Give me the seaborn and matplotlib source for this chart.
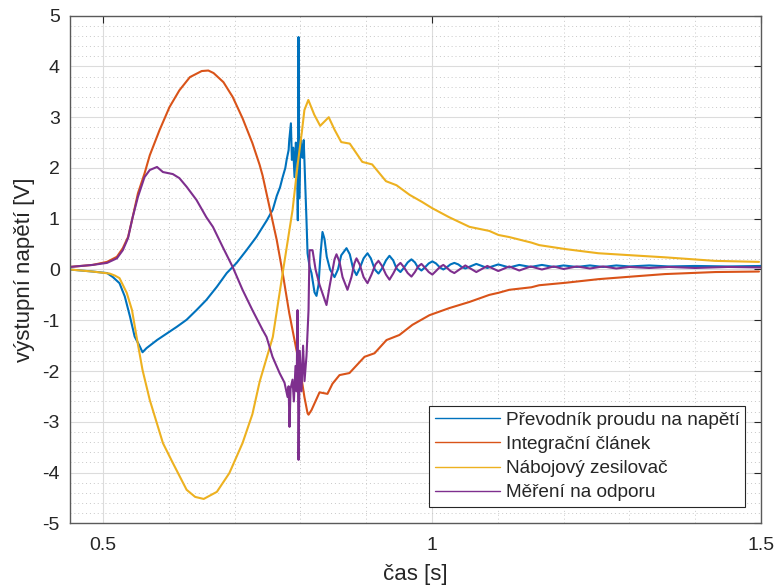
import numpy as np
import pandas as pd
import matplotlib
matplotlib.use("Agg")
import matplotlib.pyplot as plt
from matplotlib.ticker import MultipleLocator, FixedLocator
import seaborn as sns

# ---------------- data ----------------
series_names = ["Převodník proudu na napětí", "Integrační článek",
                "Nábojový zesilovač", "Měření na odporu"]
colors = ["#0072BD", "#D95319", "#EDB120", "#7E2F8E"]

blue_t = [0.449, 0.484, 0.506, 0.515, 0.525, 0.533, 0.541, 0.548, 0.556, 0.560,
          0.566, 0.582, 0.597, 0.612, 0.627, 0.642, 0.657, 0.673, 0.688, 0.703,
          0.718, 0.733, 0.749, 0.758, 0.764, 0.769, 0.773, 0.777, 0.779, 0.782,
          0.783, 0.7855, 0.787, 0.789, 0.791, 0.793, 0.795, 0.7960, 0.7971, 0.7982,
          0.800, 0.8016, 0.8032, 0.8050, 0.8075, 0.8092, 0.8108, 0.8140, 0.8168, 0.8214,
          0.8244, 0.8275, 0.8305, 0.8335, 0.8366, 0.840, 0.845, 0.8518, 0.857, 0.862,
          0.8700, 0.875, 0.880, 0.8852, 0.890, 0.896, 0.9019, 0.907, 0.913, 0.9186,
          0.924, 0.930, 0.9353, 0.941, 0.946, 0.9520, 0.957, 0.963, 0.9687, 0.974,
          0.979, 0.9839, 0.989, 0.995, 1.0005, 1.006, 1.012, 1.0172, 1.023, 1.028,
          1.0339, 1.040, 1.045, 1.0506, 1.0673, 1.0840, 1.1007, 1.1174, 1.1326, 1.150,
          1.167, 1.185, 1.20, 1.22, 1.24, 1.26, 1.28, 1.30, 1.33, 1.36,
          1.40, 1.45, 1.50]
blue_v = [0.00, -0.04, -0.07, -0.15, -0.27, -0.53, -0.93, -1.32, -1.52, -1.63,
          -1.55, -1.39, -1.26, -1.13, -0.99, -0.80, -0.60, -0.34, -0.07, 0.13,
          0.38, 0.64, 0.97, 1.18, 1.45, 1.62, 1.82, 2.00, 2.16, 2.35,
          2.55, 2.88, 2.16, 2.40, 1.82, 2.50, 2.29, 0.97, 4.58, 1.40,
          2.60, 2.41, 2.20, 2.55, 1.60, 0.97, 0.32, 0.05, -0.07, -0.45,
          -0.52, -0.30, 0.30, 0.74, 0.60, 0.25, 0.00, -0.15, 0.00, 0.28,
          0.42, 0.30, 0.02, -0.11, 0.02, 0.22, 0.32, 0.22, 0.00, -0.08,
          0.02, 0.18, 0.27, 0.18, 0.02, -0.05, 0.03, 0.14, 0.20, 0.14,
          0.03, -0.02, 0.04, 0.12, 0.16, 0.12, 0.04, 0.00, 0.05, 0.10,
          0.13, 0.10, 0.05, 0.02, 0.11, 0.03, 0.10, 0.04, 0.09, 0.05,
          0.09, 0.05, 0.08, 0.05, 0.08, 0.05, 0.08, 0.06, 0.08, 0.06,
          0.07, 0.06, 0.07]

orange_t = [0.449, 0.484, 0.506, 0.521, 0.530, 0.538, 0.545, 0.553, 0.563, 0.571,
            0.586, 0.601, 0.616, 0.632, 0.650, 0.660, 0.668, 0.683, 0.697, 0.712,
            0.727, 0.738, 0.7425, 0.753, 0.764, 0.773, 0.783, 0.794, 0.799, 0.806,
            0.8108, 0.8123, 0.8168, 0.8290, 0.8411, 0.8487, 0.8594, 0.8745, 0.8974, 0.9126,
            0.9308, 0.9504, 0.9702, 0.9961, 1.0263, 1.0567, 1.0871, 1.1007, 1.1174, 1.1510,
            1.1629, 1.2040, 1.2530, 1.3030, 1.3540, 1.4310, 1.4969]
orange_v = [0.05, 0.09, 0.15, 0.25, 0.42, 0.64, 1.03, 1.50, 1.89, 2.25,
            2.75, 3.20, 3.53, 3.79, 3.91, 3.92, 3.87, 3.69, 3.40, 2.98,
            2.49, 2.06, 1.85, 1.23, 0.58, -0.07, -0.86, -1.59, -1.92, -2.51,
            -2.83, -2.86, -2.77, -2.42, -2.45, -2.25, -2.08, -2.04, -1.72, -1.65,
            -1.39, -1.29, -1.09, -0.90, -0.76, -0.64, -0.50, -0.46, -0.40, -0.35,
            -0.31, -0.26, -0.19, -0.14, -0.09, -0.05, -0.04]

yellow_t = [0.449, 0.484, 0.510, 0.518, 0.525, 0.536, 0.544, 0.551, 0.560, 0.571,
            0.591, 0.606, 0.627, 0.640, 0.653, 0.673, 0.692, 0.712, 0.727, 0.738,
            0.758, 0.773, 0.788, 0.796, 0.802, 0.806, 0.812, 0.821, 0.830, 0.843,
            0.852, 0.862, 0.875, 0.894, 0.909, 0.930, 0.946, 0.966, 0.985, 1.000,
            1.026, 1.057, 1.087, 1.101, 1.117, 1.151, 1.163, 1.204, 1.253, 1.303,
            1.354, 1.430, 1.497]
yellow_v = [0.00, -0.04, -0.08, -0.12, -0.17, -0.46, -0.80, -1.33, -1.98, -2.57,
            -3.42, -3.81, -4.34, -4.48, -4.52, -4.38, -4.01, -3.42, -2.85, -2.21,
            -1.33, -0.07, 1.17, 2.09, 2.69, 3.14, 3.34, 3.05, 2.83, 3.00,
            2.75, 2.51, 2.48, 2.12, 2.07, 1.74, 1.66, 1.47, 1.33, 1.21,
            1.03, 0.84, 0.76, 0.68, 0.64, 0.53, 0.48, 0.40, 0.32, 0.28,
            0.24, 0.17, 0.15]

purple_t = [0.449, 0.484, 0.506, 0.521, 0.530, 0.538, 0.545, 0.553, 0.563, 0.571,
            0.582, 0.591, 0.606, 0.616, 0.627, 0.642, 0.657, 0.667, 0.682, 0.697,
            0.712, 0.727, 0.7425, 0.7485, 0.7576, 0.7683, 0.7758, 0.7804, 0.7820, 0.7834,
            0.7850, 0.7880, 0.7900, 0.7925, 0.7941, 0.7956, 0.7971, 0.7990, 0.8016, 0.8040,
            0.8062, 0.8092, 0.8123, 0.8138, 0.8184, 0.8230, 0.8290, 0.8396, 0.8442, 0.8518,
            0.8548, 0.8594, 0.8640, 0.8715, 0.8775, 0.8820, 0.8852, 0.8900, 0.8960, 0.9019,
            0.9080, 0.9140, 0.9186, 0.9240, 0.9300, 0.9353, 0.9410, 0.9470, 0.9520, 0.9570,
            0.9630, 0.9687, 0.9740, 0.9790, 0.9839, 0.9890, 0.9950, 1.0005, 1.0060, 1.0120,
            1.0172, 1.0230, 1.0280, 1.0339, 1.0506, 1.0673, 1.0840, 1.1007, 1.1174, 1.1326,
            1.150, 1.167, 1.185, 1.20, 1.22, 1.24, 1.26, 1.28, 1.30, 1.33,
            1.36, 1.40, 1.45, 1.50]
purple_v = [0.05, 0.09, 0.13, 0.22, 0.38, 0.62, 1.03, 1.43, 1.82, 1.96,
            2.02, 1.92, 1.88, 1.80, 1.63, 1.37, 1.03, 0.84, 0.44, 0.05,
            -0.40, -0.80, -1.19, -1.33, -1.72, -2.04, -2.23, -2.51, -2.30, -3.10,
            -2.35, -2.17, -2.60, -1.90, -2.40, -0.80, -3.75, -1.60, -2.40, -1.50,
            -2.20, -1.70, -0.80, 0.38, 0.38, 0.00, -0.30, -0.70, -0.34, 0.20,
            0.30, 0.15, -0.15, -0.40, -0.15, 0.12, 0.22, 0.10, -0.15, -0.27,
            -0.10, 0.10, 0.17, 0.07, -0.10, -0.20, -0.08, 0.07, 0.13, 0.05,
            -0.07, -0.14, -0.05, 0.06, 0.11, 0.04, -0.05, -0.10, -0.03, 0.05,
            0.09, 0.03, -0.03, -0.07, 0.08, -0.05, 0.07, -0.03, 0.06, -0.02,
            0.06, 0.00, 0.06, 0.01, 0.06, 0.02, 0.06, 0.02, 0.05, 0.03,
            0.05, 0.03, 0.05, 0.04]

x_ticks = [0.5, 1.0, 1.5]
x_tick_labels = ["0.5", "1", "1.5"]
y_ticks = [-5, -4, -3, -2, -1, 0, 1, 2, 3, 4, 5]

# ---------------- figure ----------------
sns.set_style("white")
plt.rcParams["font.family"] = ["Liberation Sans", "DejaVu Sans"]

W, H = 781, 588
fig = plt.figure(figsize=(W / 100, H / 100), dpi=100)
fig.patch.set_facecolor("white")
ax = fig.add_axes([69.5 / W, (H - 523.3) / H, 691.5 / W, 507.6 / H])

all_t = [blue_t, orange_t, yellow_t, purple_t]
all_v = [blue_v, orange_v, yellow_v, purple_v]
frames = []
for name, t, v in zip(series_names, all_t, all_v):
    frames.append(pd.DataFrame({"t": t, "v": v, "series": name}))
df = pd.concat(frames, ignore_index=True)

for name, col in zip(series_names, colors):
    sns.lineplot(data=df[df["series"] == name], x="t", y="v", color=col,
                 linewidth=1.5, estimator=None, sort=False, ax=ax, label=name)

ax.set_xlim(0.449, 1.5)
ax.set_ylim(-5, 5)
ax.xaxis.set_major_locator(FixedLocator(x_ticks))
ax.set_xticklabels(x_tick_labels)
ax.set_yticks(y_ticks)
ax.set_yticklabels([str(v) for v in y_ticks])
ax.xaxis.set_minor_locator(MultipleLocator(0.1))
ax.yaxis.set_minor_locator(MultipleLocator(0.2))

ax.grid(which="major", color="#dcdcdc", linewidth=0.8, linestyle="-")
ax.grid(which="minor", color="#c8c8c8", linewidth=0.7, linestyle=(0, (1, 3)))
ax.set_axisbelow(True)

tick_col = "#262626"
ax.tick_params(which="major", direction="in", top=True, right=True, length=5,
               width=0.8, color=tick_col, labelsize=14, labelcolor=tick_col)
ax.tick_params(axis="y", which="major", pad=7)
ax.tick_params(axis="x", which="major", pad=10)
ax.tick_params(which="minor", length=0, top=True, right=True)
for s in ax.spines.values():
    s.set_color("#5a5a5a")
    s.set_linewidth(1.0)

ax.set_xlabel("čas [s]", fontsize=16, color=tick_col, labelpad=7)
ax.set_ylabel("výstupní napětí [V]", fontsize=16, color=tick_col, labelpad=5)

leg = ax.legend(loc="lower right", bbox_to_anchor=(0.977, 0.032), borderaxespad=0,
                frameon=True, fancybox=False, framealpha=1, edgecolor="#262626",
                fontsize=13.7, handlelength=3.4, handletextpad=0.3,
                borderpad=0.3, labelspacing=0.36)
leg.get_frame().set_linewidth(0.8)
for line in leg.get_lines():
    line.set_linewidth(1.0)
for txt in leg.get_texts():
    txt.set_color(tick_col)

fig.savefig("out.png", dpi=100)
